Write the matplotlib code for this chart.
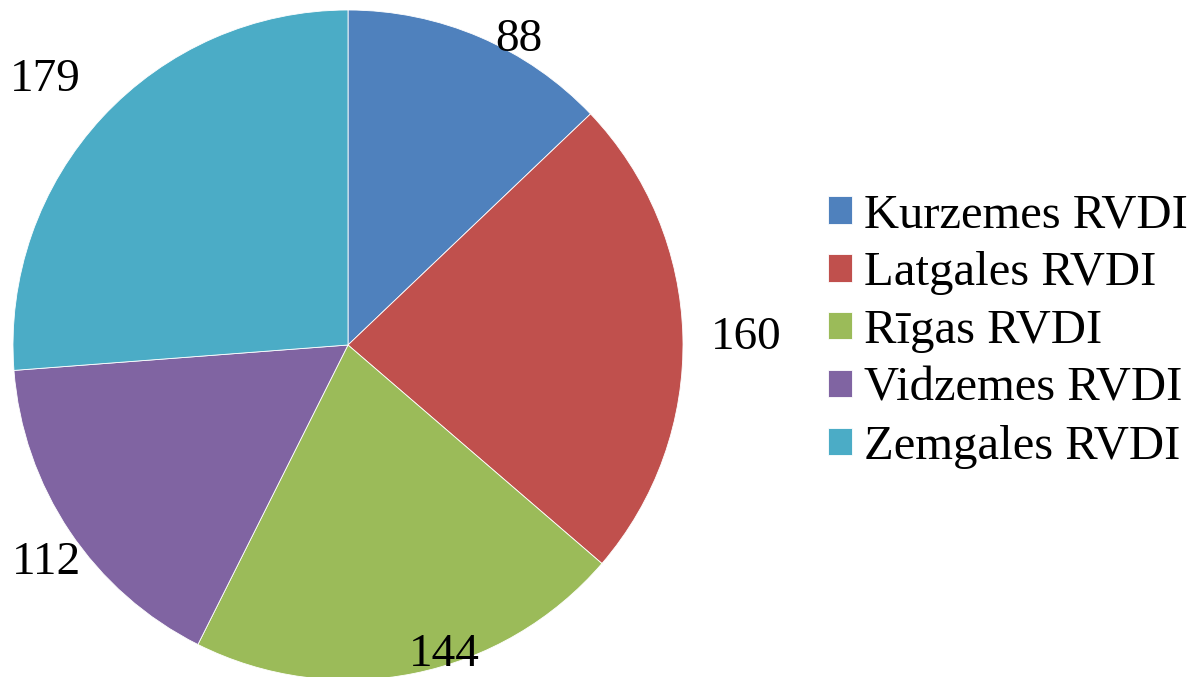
import numpy as np
import matplotlib
matplotlib.use('Agg')
import matplotlib.pyplot as plt

regions = ['Kurzemes RVDI', 'Latgales RVDI', 'Rīgas RVDI', 'Vidzemes RVDI', 'Zemgales RVDI']
counts = [88, 160, 144, 112, 179]
colors = ['#4F81BD', '#C0504D', '#9BBB59', '#8064A2', '#4BACC6']

# label placement (radius in pie units, angle tweak in degrees)
lab_r = [1.045, 1.19, 0.97, 1.11, 1.2]
lab_shift = [-6, -0.4, 6, 2, 1.6]

plt.rcParams['font.family'] = ['Liberation Serif', 'DejaVu Serif']

W, H = 1192, 677
fig = plt.figure(figsize=(W / 100, H / 100), dpi=100)
cx, cy, R = 348, 677 - 345, 335
ax = fig.add_axes([(cx - R) / W, (cy - R) / H, 2 * R / W, 2 * R / H])

wedges, _ = ax.pie(counts, colors=colors, startangle=90, counterclock=False,
                   radius=1, wedgeprops=dict(linewidth=0.6, edgecolor='white'))
ax.set_xlim(-1, 1)
ax.set_ylim(-1, 1)
ax.set_aspect('equal')
ax.axis('off')
for w in wedges:
    w.set_clip_on(False)

for w, v, r, s in zip(wedges, counts, lab_r, lab_shift):
    mid = np.deg2rad((w.theta1 + w.theta2) / 2 + s)
    ax.text(r * np.cos(mid), r * np.sin(mid), str(v), fontsize=34,
            ha='center', va='center', clip_on=False)

leg = fig.legend(wedges, regions, loc='center left', bbox_to_anchor=(804 / W, 1 - 331 / H),
                 frameon=False, fontsize=35, handlelength=0.49, handleheight=0.49,
                 handletextpad=0.25, labelspacing=0.285, borderpad=0)

fig.savefig('out.png', dpi=100)
